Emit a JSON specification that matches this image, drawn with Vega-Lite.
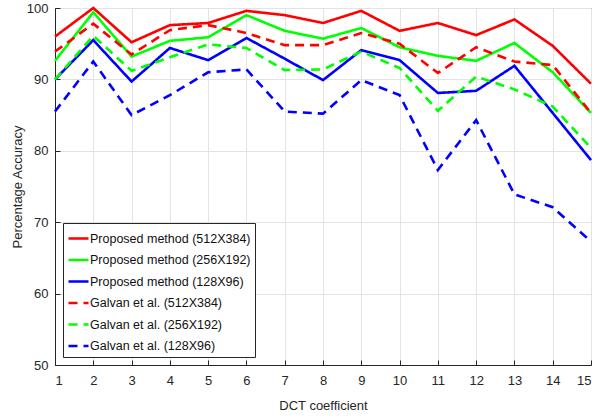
{
  "$schema": "https://vega.github.io/schema/vega-lite/v6.json",
  "autosize": "none",
  "width": 536,
  "height": 357,
  "padding": {"left": 55, "top": 8, "right": 24, "bottom": 55},
  "background": "white",
  "config": {
    "font": "Liberation Sans",
    "view": {"stroke": "#333333", "strokeWidth": 1},
    "axis": {
      "labelFont": "Liberation Sans",
      "titleFont": "Liberation Sans",
      "labelFontSize": 13,
      "titleFontSize": 13,
      "titleFontWeight": "normal",
      "labelColor": "#262626",
      "titleColor": "#262626",
      "domainColor": "#262626",
      "tickColor": "#262626",
      "gridColor": "#e3e3e3",
      "gridWidth": 1
    }
  },
  "data": {"values": [
    {"x":1,"s":"Proposed method (512X384)","v":96.0},{"x":2,"s":"Proposed method (512X384)","v":100},{"x":3,"s":"Proposed method (512X384)","v":95.2},{"x":4,"s":"Proposed method (512X384)","v":97.6},{"x":5,"s":"Proposed method (512X384)","v":97.9},{"x":6,"s":"Proposed method (512X384)","v":99.6},{"x":7,"s":"Proposed method (512X384)","v":99.0},{"x":8,"s":"Proposed method (512X384)","v":97.9},{"x":9,"s":"Proposed method (512X384)","v":99.6},{"x":10,"s":"Proposed method (512X384)","v":96.8},{"x":11,"s":"Proposed method (512X384)","v":97.9},{"x":12,"s":"Proposed method (512X384)","v":96.2},{"x":13,"s":"Proposed method (512X384)","v":98.4},{"x":14,"s":"Proposed method (512X384)","v":94.7},{"x":15,"s":"Proposed method (512X384)","v":89.4},
    {"x":1,"s":"Proposed method (256X192)","v":92.6},{"x":2,"s":"Proposed method (256X192)","v":99.4},{"x":3,"s":"Proposed method (256X192)","v":93.2},{"x":4,"s":"Proposed method (256X192)","v":95.4},{"x":5,"s":"Proposed method (256X192)","v":95.9},{"x":6,"s":"Proposed method (256X192)","v":99.0},{"x":7,"s":"Proposed method (256X192)","v":96.8},{"x":8,"s":"Proposed method (256X192)","v":95.7},{"x":9,"s":"Proposed method (256X192)","v":97.2},{"x":10,"s":"Proposed method (256X192)","v":94.5},{"x":11,"s":"Proposed method (256X192)","v":93.3},{"x":12,"s":"Proposed method (256X192)","v":92.6},{"x":13,"s":"Proposed method (256X192)","v":95.1},{"x":14,"s":"Proposed method (256X192)","v":91.0},{"x":15,"s":"Proposed method (256X192)","v":85.3},
    {"x":1,"s":"Proposed method (128X96)","v":90.0},{"x":2,"s":"Proposed method (128X96)","v":95.5},{"x":3,"s":"Proposed method (128X96)","v":89.7},{"x":4,"s":"Proposed method (128X96)","v":94.4},{"x":5,"s":"Proposed method (128X96)","v":92.7},{"x":6,"s":"Proposed method (128X96)","v":95.8},{"x":7,"s":"Proposed method (128X96)","v":92.9},{"x":8,"s":"Proposed method (128X96)","v":89.9},{"x":9,"s":"Proposed method (128X96)","v":94.1},{"x":10,"s":"Proposed method (128X96)","v":92.7},{"x":11,"s":"Proposed method (128X96)","v":88.1},{"x":12,"s":"Proposed method (128X96)","v":88.4},{"x":13,"s":"Proposed method (128X96)","v":91.9},{"x":14,"s":"Proposed method (128X96)","v":85.3},{"x":15,"s":"Proposed method (128X96)","v":78.7},
    {"x":1,"s":"Galvan et al. (512X384)","v":93.9},{"x":2,"s":"Galvan et al. (512X384)","v":97.8},{"x":3,"s":"Galvan et al. (512X384)","v":93.5},{"x":4,"s":"Galvan et al. (512X384)","v":96.9},{"x":5,"s":"Galvan et al. (512X384)","v":97.6},{"x":6,"s":"Galvan et al. (512X384)","v":96.5},{"x":7,"s":"Galvan et al. (512X384)","v":94.8},{"x":8,"s":"Galvan et al. (512X384)","v":94.8},{"x":9,"s":"Galvan et al. (512X384)","v":96.5},{"x":10,"s":"Galvan et al. (512X384)","v":95.0},{"x":11,"s":"Galvan et al. (512X384)","v":90.9},{"x":12,"s":"Galvan et al. (512X384)","v":94.5},{"x":13,"s":"Galvan et al. (512X384)","v":92.5},{"x":14,"s":"Galvan et al. (512X384)","v":92.0},{"x":15,"s":"Galvan et al. (512X384)","v":85.3},
    {"x":1,"s":"Galvan et al. (256X192)","v":90.0},{"x":2,"s":"Galvan et al. (256X192)","v":96.1},{"x":3,"s":"Galvan et al. (256X192)","v":91.2},{"x":4,"s":"Galvan et al. (256X192)","v":93.1},{"x":5,"s":"Galvan et al. (256X192)","v":94.9},{"x":6,"s":"Galvan et al. (256X192)","v":94.4},{"x":7,"s":"Galvan et al. (256X192)","v":91.3},{"x":8,"s":"Galvan et al. (256X192)","v":91.4},{"x":9,"s":"Galvan et al. (256X192)","v":93.9},{"x":10,"s":"Galvan et al. (256X192)","v":91.6},{"x":11,"s":"Galvan et al. (256X192)","v":85.6},{"x":12,"s":"Galvan et al. (256X192)","v":90.4},{"x":13,"s":"Galvan et al. (256X192)","v":88.6},{"x":14,"s":"Galvan et al. (256X192)","v":86.2},{"x":15,"s":"Galvan et al. (256X192)","v":80.4},
    {"x":1,"s":"Galvan et al. (128X96)","v":85.5},{"x":2,"s":"Galvan et al. (128X96)","v":92.5},{"x":3,"s":"Galvan et al. (128X96)","v":85.0},{"x":4,"s":"Galvan et al. (128X96)","v":87.8},{"x":5,"s":"Galvan et al. (128X96)","v":91.0},{"x":6,"s":"Galvan et al. (128X96)","v":91.4},{"x":7,"s":"Galvan et al. (128X96)","v":85.5},{"x":8,"s":"Galvan et al. (128X96)","v":85.2},{"x":9,"s":"Galvan et al. (128X96)","v":89.9},{"x":10,"s":"Galvan et al. (128X96)","v":87.8},{"x":11,"s":"Galvan et al. (128X96)","v":77.3},{"x":12,"s":"Galvan et al. (128X96)","v":84.3},{"x":13,"s":"Galvan et al. (128X96)","v":73.9},{"x":14,"s":"Galvan et al. (128X96)","v":72.1},{"x":15,"s":"Galvan et al. (128X96)","v":67.3}
  ]},
  "mark": {"type": "line", "strokeWidth": 2.6, "clip": false},
  "encoding": {
    "x": {
      "field": "x", "type": "quantitative",
      "scale": {"domain": [1, 15], "nice": false, "zero": false},
      "axis": {"values": [1,2,3,4,5,6,7,8,9,10,11,12,13,14,15], "title": "DCT coefficient", "tickSize": -5, "labelPadding": 14, "titlePadding": 12, "grid": true}
    },
    "y": {
      "field": "v", "type": "quantitative",
      "scale": {"domain": [50, 100], "nice": false, "zero": false},
      "axis": {"values": [50,60,70,80,90,100], "title": "Percentage Accuracy", "tickSize": -5, "labelPadding": 12, "titlePadding": 2, "grid": true}
    },
    "color": {
      "field": "s", "type": "nominal",
      "scale": {
        "domain": ["Proposed method (512X384)","Proposed method (256X192)","Proposed method (128X96)","Galvan et al. (512X384)","Galvan et al. (256X192)","Galvan et al. (128X96)"],
        "range": ["#ff0000","#00ff00","#0000ff","#ff0000","#00ff00","#0000ff"]
      },
      "legend": {
        "title": null, "orient": "none", "legendX": 8, "legendY": 215,
        "strokeColor": "#262626", "fillColor": "white", "padding": 4,
        "labelFontSize": 12.5, "labelFont": "Liberation Sans", "labelColor": "#111111", "labelOffset": 0, "labelLimit": 400,
        "symbolType": "stroke", "symbolSize": 400, "symbolStrokeWidth": 2.6, "rowPadding": 3.5
      }
    },
    "strokeDash": {
      "field": "s", "type": "nominal",
      "scale": {
        "domain": ["Proposed method (512X384)","Proposed method (256X192)","Proposed method (128X96)","Galvan et al. (512X384)","Galvan et al. (256X192)","Galvan et al. (128X96)"],
        "range": [[1,0],[1,0],[1,0],[9,6],[9,6],[9,6]]
      },
      "legend": {
        "title": null, "orient": "none", "legendX": 8, "legendY": 215,
        "strokeColor": "#262626", "fillColor": "white", "padding": 4,
        "labelFontSize": 12.5, "labelFont": "Liberation Sans", "labelColor": "#111111", "labelOffset": 0, "labelLimit": 400,
        "symbolType": "stroke", "symbolSize": 400, "symbolStrokeWidth": 2.6, "rowPadding": 3.5
      }
    }
  }
}
